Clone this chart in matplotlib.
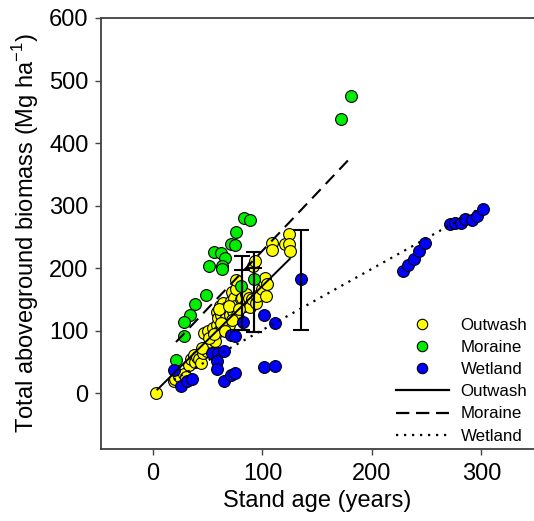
import matplotlib
matplotlib.use("Agg")
import matplotlib.pyplot as plt
from matplotlib.lines import Line2D
import numpy as np

plt.rcParams['font.family'] = ['Liberation Sans', 'DejaVu Sans']

# ---------------- data ----------------
outwash_x = [3, 19, 20, 24, 28, 30, 33, 35, 37, 38, 40, 42, 44, 46, 47, 49, 50, 52, 53,
             54, 55, 56, 57, 58, 58, 59, 60, 61, 62, 63, 64, 65, 66, 67, 68, 69, 70, 71,
             72, 73, 74, 75, 76, 76, 77, 78, 80, 81, 83, 85, 86, 88, 89, 90, 91, 93, 94,
             95, 100, 101, 102, 103, 104, 109, 109, 121, 124, 124, 125,
             45, 51, 56, 60, 62, 66, 69, 72, 79]
outwash_y = [1, 20, 23, 27, 31, 26, 45, 55, 61, 50, 58, 55, 48, 65, 97, 67, 100, 75, 82,
             90, 105, 85, 84, 110, 130, 120, 100, 140, 125, 105, 145, 115, 130, 120, 138,
             110, 125, 147, 162, 132, 153, 140, 166, 181, 126, 120, 150, 153, 140, 158,
             145, 152, 138, 150, 203, 212, 145, 155, 167, 178, 185, 156, 174, 240, 229,
             238, 255, 239, 227,
             72, 88, 95, 135, 112, 100, 140, 118, 135]

moraine_x = [181, 172, 83, 89, 76, 71, 75, 56, 62, 66, 51, 63, 63, 48, 38, 34, 28, 28,
             21, 80, 92]
moraine_y = [475, 438, 281, 277, 258, 238, 237, 226, 224, 216, 203, 203, 198, 157, 142,
             125, 114, 92, 53, 171, 182]

wetland_x = [228, 233, 238, 243, 248, 271, 276, 281, 285, 291, 296, 301,
             135, 101, 111, 82, 71, 75, 54, 59, 65, 58, 58, 65, 71, 75, 101, 111, 19, 26,
             31, 36]
wetland_y = [195, 205, 214, 227, 240, 271, 272, 273, 279, 277, 284, 294,
             182, 126, 113, 114, 94, 92, 64, 65, 67, 51, 39, 20, 30, 33, 42, 43, 37, 11,
             19, 23]

# regression lines (endpoints)
fit_outwash_x = [4, 125]
fit_outwash_y = [6, 215]
fit_moraine_x = [21, 179]
fit_moraine_y = [82, 374]
fit_wetland_x = [19, 300]
fit_wetland_y = [22, 297]

# error bars: x, lower, upper
err_x = [81, 81, 92, 92, 135]
err_lo = [102, 102, 98, 98, 102]
err_hi = [220, 197, 226, 201, 261]

xticks = [0, 100, 200, 300]
yticks = [0, 100, 200, 300, 400, 500, 600]

# ---------------- figure ----------------
W, H = 534, 521
fig = plt.figure(figsize=(W / 100, H / 100), dpi=100)
ax = fig.add_axes([101 / W, 1 - 449 / H, (W - 101) / W, (449 - 18) / H])

ms = 8.5
ax.plot(outwash_x, outwash_y, 'o', ms=ms, mfc='#FFFF00', mec='black', mew=0.8, zorder=3)
ax.plot(moraine_x, moraine_y, 'o', ms=ms, mfc='#00EE00', mec='black', mew=0.8, zorder=3)
ax.plot(wetland_x, wetland_y, 'o', ms=ms, mfc='#0000FF', mec='black', mew=0.8, zorder=3)

ax.plot(fit_outwash_x, fit_outwash_y, color='black', lw=1.4, zorder=4)
ax.plot(fit_moraine_x, fit_moraine_y, color='black', lw=1.5, ls=(0, (6, 3.5)), zorder=4)
ax.plot(fit_wetland_x, fit_wetland_y, color='black', lw=1.6, ls=(0, (1, 2.6)), zorder=4)

for x, lo, hi in zip(err_x, err_lo, err_hi):
    mid = (lo + hi) / 2
    ax.errorbar([x], [mid], yerr=[[mid - lo], [hi - mid]], fmt='none', ecolor='black',
                elinewidth=1.5, capsize=5.5, capthick=1.5, zorder=5)

ax.set_xlim(-47.5, 348)
ax.set_ylim(-89, 600)
ax.set_xticks(xticks)
ax.set_yticks(yticks)
ax.tick_params(axis='both', labelsize=17, direction='out', length=4, width=1,
               color='#444444')
ax.tick_params(axis='y', pad=5)
ax.tick_params(axis='x', pad=6)
for s in ['left', 'bottom', 'top']:
    ax.spines[s].set_color('#404040')
    ax.spines[s].set_linewidth(1.3)
ax.spines['right'].set_visible(False)

ax.set_xlabel('Stand age (years)', fontsize=17, labelpad=4)
ax.set_ylabel('Total aboveground biomass (Mg ha$^{\\mathregular{-1}}$)', fontsize=17,
              labelpad=6)

handles = [
    Line2D([], [], ls='none', marker='o', ms=7.5, mfc='#FFFF00', mec='black', mew=0.8),
    Line2D([], [], ls='none', marker='o', ms=7.5, mfc='#00EE00', mec='black', mew=0.8),
    Line2D([], [], ls='none', marker='o', ms=7.5, mfc='#0000FF', mec='black', mew=0.8),
    Line2D([], [], color='black', lw=1.6),
    Line2D([], [], color='black', lw=1.6, ls=(0, (6, 3))),
    Line2D([], [], color='black', lw=1.6, ls=(0, (1, 2.6))),
]
labels = ['Outwash', 'Moraine', 'Wetland', 'Outwash', 'Moraine', 'Wetland']
fig.legend(handles, labels, loc='upper left', bbox_to_anchor=(396 / W, 1 - 318 / H),
           bbox_transform=fig.transFigure, frameon=False, fontsize=12.2,
           handlelength=3.1, handletextpad=0.72, labelspacing=0.42, borderpad=0,
           borderaxespad=0)

fig.savefig('out.png', dpi=100)
